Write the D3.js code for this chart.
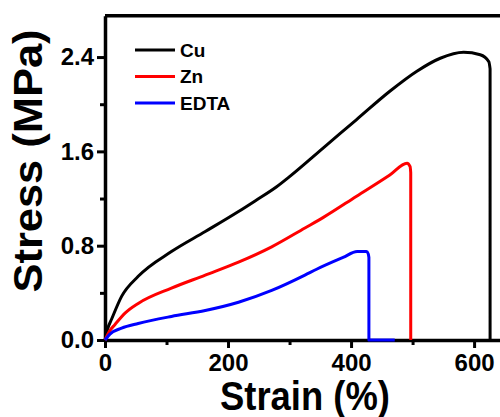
<!DOCTYPE html>
<html>
<head>
<meta charset="utf-8">
<script src="https://cdn.jsdelivr.net/npm/d3@7"></script>
<style>
  html, body { margin: 0; padding: 0; background: #fff; }
  svg text { font-family: "Liberation Sans", Arial, sans-serif; font-weight: bold; fill: #000; }
</style>
</head>
<body>
<svg id="chart" width="500" height="417"></svg>
<script>
"use strict";

/* ── Data (strain %, stress MPa) ─────────────────────────── */
const seriesNames = ["Cu", "Zn", "EDTA"];
const seriesColors = ["#000000", "#ff0000", "#0000ff"];

const cuStrain  = [0, 4, 11, 27, 54, 108, 163, 217, 244, 279, 301, 355, 409, 463, 507, 545, 583, 610, 624, 626, 626];
const cuStress  = [0, 0.09, 0.18, 0.37, 0.54, 0.75, 0.92, 1.09, 1.18, 1.30, 1.39, 1.63, 1.87, 2.11, 2.28, 2.39, 2.44, 2.42, 2.36, 2.30, 0];

const znStrain  = [0, 8, 16, 33, 54, 108, 163, 217, 271, 325, 355, 409, 463, 491, 496, 497, 497];
const znStress  = [0, 0.08, 0.13, 0.23, 0.31, 0.44, 0.55, 0.66, 0.79, 0.95, 1.04, 1.22, 1.40, 1.50, 1.47, 1.42, 0];

const edStrain  = [0, 8, 27, 54, 108, 163, 217, 271, 325, 344, 387, 410, 425, 428, 429, 429, 471];
const edStress  = [0, 0.05, 0.10, 0.14, 0.20, 0.25, 0.32, 0.42, 0.55, 0.60, 0.70, 0.75, 0.75, 0.73, 0.70, 0, 0];

const xMajorTicks = [0, 200, 400, 600];
const xMinorTicks = [100, 300, 500];
const yMajorTicks = [0, 0.8, 1.6, 2.4];
const yMinorTicks = [0.4, 1.2, 2.0];

const series = [
  { name: seriesNames[0], color: seriesColors[0], pts: cuStrain.map((s, i) => [s, cuStress[i]]) },
  { name: seriesNames[1], color: seriesColors[1], pts: znStrain.map((s, i) => [s, znStress[i]]) },
  { name: seriesNames[2], color: seriesColors[2], pts: edStrain.map((s, i) => [s, edStress[i]]) },
];

/* ── Layout ─────────────────────────────────────────────── */
const svg = d3.select("#chart");
const x = d3.scaleLinear().domain([0, 660]).range([105, 511]);
const y = d3.scaleLinear().domain([0, 2.75]).range([340, 15.8]);

/* Frame (top + right) */
svg.append("path")
  .attr("d", `M${x(0)},${y(2.75)}H${x(660)}V${y(0)}`)
  .attr("fill", "none").attr("stroke", "#000").attr("stroke-width", 3.5);

/* Axes */
function styleAxis(sel) {
  sel.select(".domain").attr("stroke-width", 3.5);
  sel.selectAll(".tick line").attr("stroke-width", 3);
  sel.selectAll(".tick text").attr("font-size", 24);
}

svg.append("g")
  .attr("transform", `translate(0,${y(0)})`)
  .call(d3.axisBottom(x).tickValues(xMinorTicks).tickSize(5).tickFormat("").tickSizeOuter(0))
  .call(g => { g.select(".domain").remove(); g.selectAll("line").attr("stroke-width", 3); });

svg.append("g")
  .attr("transform", `translate(${x(0)},0)`)
  .call(d3.axisLeft(y).tickValues(yMinorTicks).tickSize(5).tickFormat("").tickSizeOuter(0))
  .call(g => { g.select(".domain").remove(); g.selectAll("line").attr("stroke-width", 3); });

svg.append("g")
  .attr("transform", `translate(0,${y(0)})`)
  .call(d3.axisBottom(x).tickValues(xMajorTicks).tickSize(8).tickPadding(6).tickSizeOuter(0))
  .call(styleAxis);

svg.append("g")
  .attr("transform", `translate(${x(0)},0)`)
  .call(d3.axisLeft(y).tickValues(yMajorTicks).tickSize(8).tickPadding(3).tickFormat(d3.format(".1f")).tickSizeOuter(0))
  .call(styleAxis);

/* Curves: smooth rise (monotone in x) + straight fracture drop */
const smooth = d3.line().x(d => x(d[0])).y(d => y(d[1])).curve(d3.curveMonotoneX);
const straight = d3.line().x(d => x(d[0])).y(d => y(d[1]));

function pathFor(pts) {
  // rising part ends where strain stops increasing
  let k = 1;
  while (k < pts.length && pts[k][0] > pts[k - 1][0]) k++;
  const rise = pts.slice(0, k);
  const drop = pts.slice(k - 1);
  return smooth(rise) + straight(drop).replace(/^M/, "L");
}

svg.selectAll(".curve")
  .data(series)
  .join("path")
  .attr("class", "curve")
  .attr("d", d => pathFor(d.pts))
  .attr("fill", "none")
  .attr("stroke", d => d.color)
  .attr("stroke-width", 3)
  .attr("stroke-linejoin", "round");

/* Legend */
const legend = svg.append("g");
series.forEach((s, i) => {
  const ly = 50 + i * 26.5;
  legend.append("line")
    .attr("x1", 135).attr("x2", 175).attr("y1", ly).attr("y2", ly)
    .attr("stroke", s.color).attr("stroke-width", 3);
  legend.append("text")
    .attr("x", 180).attr("y", ly).attr("dy", "0.36em")
    .attr("font-size", 19)
    .text(s.name);
});

/* Axis titles */
svg.append("text")
  .attr("x", 305).attr("y", 410)
  .attr("text-anchor", "middle")
  .attr("font-size", 40)
  .attr("textLength", 170).attr("lengthAdjust", "spacingAndGlyphs")
  .text("Strain (%)");

svg.append("text")
  .attr("transform", "translate(42,161) rotate(-90)")
  .attr("text-anchor", "middle")
  .attr("font-size", 40)
  .attr("textLength", 263).attr("lengthAdjust", "spacingAndGlyphs")
  .text("Stress (MPa)");
</script>
</body>
</html>
